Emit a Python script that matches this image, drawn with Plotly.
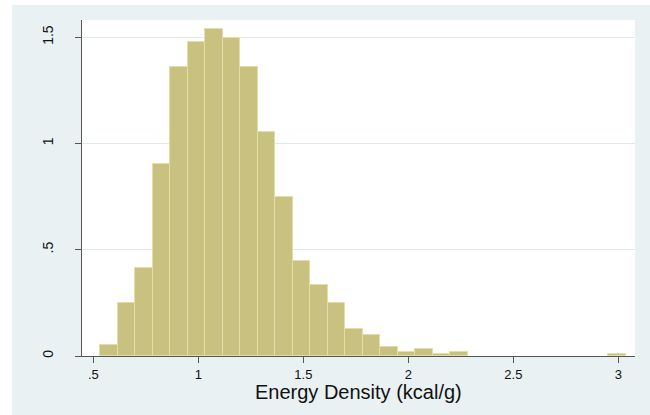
import plotly.graph_objects as go

# Histogram of energy density: 30 equal-width bins, heights are densities
bin_start = 0.532
bin_width = 0.0834
density = [0.053, 0.249, 0.412, 0.902, 1.360, 1.476, 1.540, 1.497, 1.358, 1.053,
           0.748, 0.445, 0.335, 0.248, 0.129, 0.099, 0.041, 0.020, 0.031, 0.010,
           0.021, 0.0, 0.0, 0.0, 0.0, 0.0, 0.0, 0.0, 0.0, 0.010]

x_ticks = [0.5, 1, 1.5, 2, 2.5, 3]
x_tick_text = [".5", "1", "1.5", "2", "2.5", "3"]
y_ticks = [0, 0.5, 1, 1.5]
y_tick_text = ["0", ".5", "1", "1.5"]
x_title = "Energy Density (kcal/g)"

centers = [bin_start + bin_width * (i + 0.5) for i in range(len(density))]
xs = [c for c, d in zip(centers, density) if d > 0]
ys = [d for d in density if d > 0]

BAR_FILL = "#c9c17f"
BAR_EDGE = "#e3dea6"
PANEL = "#eaf1f3"
GRID = "#e0eaed"
AXIS = "#555555"
FONT = "Liberation Sans, Arial, sans-serif"

fig = go.Figure(
    go.Bar(
        x=xs,
        y=ys,
        width=bin_width,
        marker=dict(color=BAR_FILL, line=dict(color=BAR_EDGE, width=1)),
        hoverinfo="skip",
    )
)

fig.update_layout(
    width=650,
    height=415,
    margin=dict(l=82, r=15, t=20, b=59),
    paper_bgcolor=PANEL,
    plot_bgcolor="white",
    showlegend=False,
    font=dict(family=FONT, color="#111111", size=12),
    bargap=0,
)

fig.update_xaxes(
    range=[0.4462, 3.079],
    tickmode="array",
    tickvals=x_ticks,
    ticktext=x_tick_text,
    showgrid=False,
    zeroline=False,
    showline=True,
    linecolor=AXIS,
    linewidth=1,
    ticks="outside",
    ticklen=6,
    tickwidth=1,
    tickcolor=AXIS,
    tickfont=dict(size=13, color="#111111"),
)

fig.update_yaxes(
    range=[0, 1.581],
    tickmode="array",
    tickvals=y_ticks,
    ticktext=y_tick_text,
    showgrid=True,
    gridcolor=GRID,
    gridwidth=1,
    zeroline=False,
    showline=True,
    linecolor=AXIS,
    linewidth=1,
    ticks="outside",
    ticklen=6,
    tickwidth=1,
    tickcolor=AXIS,
    tickangle=-90,
    ticklabelstandoff=16,
    tickfont=dict(size=14, color="#111111"),
)

# x-axis title placed just under the tick labels
fig.add_annotation(text=x_title, xref="paper", yref="paper", x=0.5, y=-0.108,
                   xanchor="center", yanchor="middle", showarrow=False,
                   font=dict(size=20, color="#111111"))

# white strips around the outer graph region
fig.add_shape(type="rect", xref="paper", yref="paper", x0=-0.16, x1=-0.1266, y0=-0.2, y1=1.1,
              fillcolor="white", line=dict(width=0), layer="above")
fig.add_shape(type="rect", xref="paper", yref="paper", x0=-0.16, x1=1.1, y0=1.0446, y1=1.1,
              fillcolor="white", line=dict(width=0), layer="above")

fig.write_html("out.html")
